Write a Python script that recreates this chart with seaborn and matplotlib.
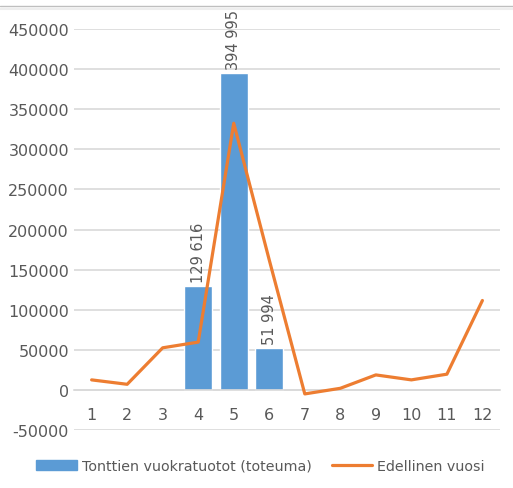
# Monthly plot rental income vs previous year (Excel-style combo chart)

import matplotlib.pyplot as plt
import matplotlib.patches as mpatches
import matplotlib.lines as mlines
import numpy as np
import pandas as pd
import seaborn as sns

months = [1, 2, 3, 4, 5, 6, 7, 8, 9, 10, 11, 12]
toteuma = [np.nan, np.nan, np.nan, 129616, 394995, 51994, np.nan, np.nan, np.nan, np.nan, np.nan, np.nan]
edellinen = [12500, 7000, 52500, 59600, 332500, 162000, -5000, 2000, 18700, 12500, 19600, 111500]

bar_label = 'Tonttien vuokratuotot (toteuma)'
line_label = 'Edellinen vuosi'

blue = '#5B9BD5'
orange = '#ED7D31'
grey = '#595959'
gridc = '#D9D9D9'

df = pd.DataFrame({'month': months, 'toteuma': toteuma, 'edellinen': edellinen})

sns.set_style("white")
plt.rcParams['font.family'] = ['DejaVu Sans']
plt.rcParams['axes.unicode_minus'] = False

fig = plt.figure(figsize=(5.13, 4.89), dpi=100)
ax = fig.add_axes([0.144, 0.1186, 0.831, 0.82])

sns.barplot(data=df, x='month', y='toteuma', native_scale=True, width=0.78,
            color=blue, saturation=1, ax=ax, zorder=2)
sns.lineplot(data=df, x='month', y='edellinen', color=orange, linewidth=2.3, ax=ax, zorder=3)

# data labels above bars
for m, v in zip(months, toteuma):
    if not np.isnan(v):
        ax.annotate(f"{int(v):,}".replace(",", " "), (m, v), xytext=(0, 3), textcoords='offset points',
                    rotation=90, ha='center', va='bottom', fontsize=10.5, color=grey)

ax.set_xlim(0.5, 12.5)
ax.set_ylim(-50000, 450000)
ax.set_yticks(np.arange(-50000, 450001, 50000))
ax.set_xticks(months)
ax.set_xticklabels([str(m) for m in months])
ax.yaxis.grid(True, color=gridc, linewidth=1.2, zorder=0)
ax.set_axisbelow(True)
for s in ['top', 'right', 'left']:
    ax.spines[s].set_visible(False)
ax.spines['bottom'].set_position(('data', 0))
ax.spines['bottom'].set_color(gridc)
ax.spines['bottom'].set_linewidth(1.2)
ax.tick_params(axis='both', length=0, labelsize=11.5, colors=grey)
ax.tick_params(axis='x', pad=12)
ax.set_xlabel('')
ax.set_ylabel('')

handles = [mpatches.Patch(color=blue, label=bar_label),
           mlines.Line2D([], [], color=orange, linewidth=2.3, label=line_label)]
fig.legend(handles=handles, loc='center', bbox_to_anchor=(0.508, 0.045), ncol=2, frameon=False,
           fontsize=10.3, labelcolor=grey, handlelength=2.8, handleheight=0.73,
           handletextpad=0.35, columnspacing=1.45)

# chart border at the top
fig.add_artist(mlines.Line2D([0, 1], [0.986, 0.986], color='#BFBFBF', linewidth=1))
fig.add_artist(mlines.Line2D([0, 1], [0.98, 0.98], color='#EEEEEE', linewidth=1.5))

plt.savefig('out.png', dpi=100)
